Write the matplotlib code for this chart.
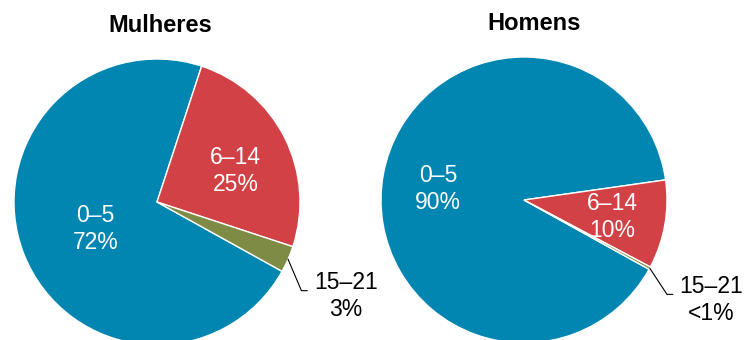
import matplotlib.pyplot as plt
import numpy as np

plt.rcParams['font.family'] = ['Liberation Sans', 'DejaVu Sans']

groups = ['0–5', '6–14', '15–21']
mulheres = [72, 25, 3]
homens = [89.7, 10, 0.3]
mulheres_txt = ['72%', '25%', '3%']
homens_txt = ['90%', '10%', '<1%']
colors = ['#0086B0', '#D24145', '#7E8B44']


def draw_pie(ax, vals, txt, title, title_xy, inner_pos, out_pos):
    wedges, _ = ax.pie(vals, colors=colors, startangle=-29, counterclock=False,
                       radius=1, wedgeprops=dict(edgecolor='white', linewidth=1))
    ax.set_xlim(-1, 1)
    ax.set_ylim(-1, 1)
    ax.axis('off')
    for i in range(2):
        ax.text(inner_pos[i][0], inner_pos[i][1], groups[i] + '\n' + txt[i],
                ha='center', va='center', color='white', fontsize=16.5,
                linespacing=1.22)
    # leader line for the small slice
    w = wedges[2]
    a = np.deg2rad((w.theta1 + w.theta2) / 2)
    x0, y0 = np.cos(a), np.sin(a)
    ex, ey = out_pos[0] - 0.31, out_pos[1] + 0.04
    ax.plot([x0, ex, ex + 0.04], [y0, ey, ey], color='black', lw=0.8, clip_on=False)
    ax.text(out_pos[0], out_pos[1], groups[2] + '\n' + txt[2], ha='center', va='center',
            color='black', fontsize=16.5, linespacing=1.22)
    fig.text(title_xy[0], title_xy[1], title, ha='center', va='center',
             fontsize=17, fontweight='bold')


fig = plt.figure(figsize=(7.5, 3.4), dpi=100)
ax1 = fig.add_axes([14 / 750, -5 / 340, 286 / 750, 286 / 340])
ax2 = fig.add_axes([381 / 750, -3 / 340, 286 / 750, 286 / 340])

draw_pie(ax1, mulheres, mulheres_txt, 'Mulheres', (160 / 750, 1 - 26 / 340),
         [(-0.43, -0.19), (0.55, 0.22)], (1.32, -0.66))
draw_pie(ax2, homens, homens_txt, 'Homens', (534 / 750, 1 - 23 / 340),
         [(-0.60, 0.08), (0.62, -0.12)], (1.31, -0.70))

fig.savefig('out.png', dpi=100)
